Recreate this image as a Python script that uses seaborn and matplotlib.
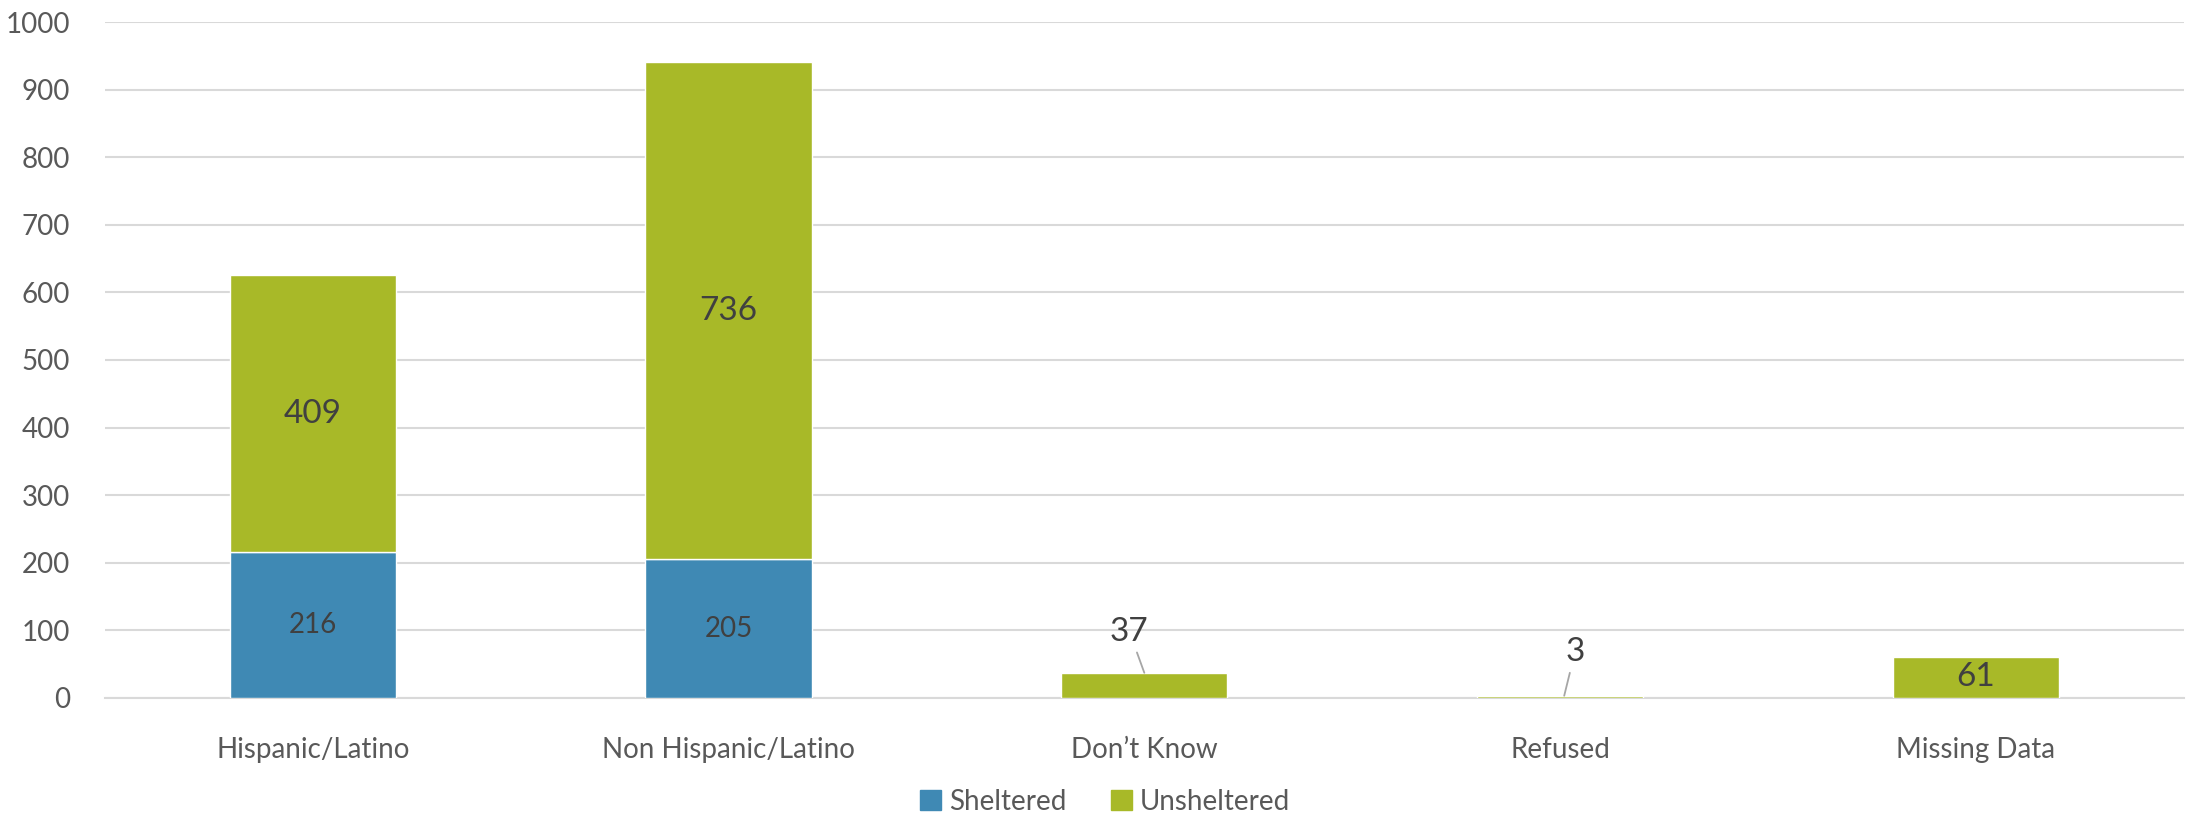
import matplotlib
matplotlib.use("Agg")
import matplotlib.pyplot as plt
import seaborn as sns
from matplotlib.patches import Patch

categories = ["Hispanic/Latino", "Non Hispanic/Latino", "Don\u2019t Know", "Refused", "Missing Data"]
sheltered = [216, 205, 0, 0, 0]
unsheltered = [409, 736, 37, 3, 61]
y_ticks = list(range(0, 1001, 100))

blue = "#3F89B4"
green = "#A8B928"
grid_col = "#D9D9D9"
txt_col = "#595959"
lbl_col = "#404040"

sns.set_theme(style="white")
plt.rcParams["font.family"] = ["Lato", "DejaVu Sans"]

fig = plt.figure(figsize=(21.88, 8.19), dpi=100)
ax = fig.add_axes([0.048, 0.148, 0.950, 0.825])

sns.barplot(x=categories, y=sheltered, color=blue, width=0.4, ax=ax,
            saturation=1, zorder=3)
sns.barplot(x=categories, y=unsheltered, bottom=sheltered, color=green,
            width=0.4, ax=ax, saturation=1, zorder=3)

# labels
for i, (s, u) in enumerate(zip(sheltered, unsheltered)):
    if s > 0:
        ax.text(i, s / 2, str(s), ha="center", va="center", fontsize=20, color=lbl_col, zorder=4)
    if u > 40:
        ax.text(i, s + u / 2, str(u), ha="center", va="center", fontsize=24, color=lbl_col, zorder=4)

# small values with leader lines
ax.annotate(str(unsheltered[2]), xy=(2, unsheltered[2]), xytext=(2 - 0.036, 98),
            ha="center", va="center", fontsize=24, color=lbl_col,
            arrowprops=dict(arrowstyle="-", color="#A6A6A6", lw=1.3, shrinkA=2, shrinkB=0))
ax.annotate(str(unsheltered[3]), xy=(3.01, unsheltered[3]), xytext=(3 + 0.036, 68),
            ha="center", va="center", fontsize=24, color=lbl_col,
            arrowprops=dict(arrowstyle="-", color="#A6A6A6", lw=1.3, shrinkA=2, shrinkB=0))

ax.set_ylim(0, 1000)
ax.set_xlim(-0.5, 4.5)
ax.set_yticks(y_ticks)
ax.yaxis.grid(True, color=grid_col, lw=1.5, zorder=0)
ax.set_axisbelow(True)
for sp in ["top", "right", "left"]:
    ax.spines[sp].set_visible(False)
ax.spines["bottom"].set_color(grid_col)
ax.spines["bottom"].set_linewidth(1.5)
ax.tick_params(axis="both", length=0, labelsize=20, labelcolor=txt_col)
ax.tick_params(axis="x", pad=28)
ax.tick_params(axis="y", pad=25)
ax.set_xlabel("")
ax.set_ylabel("")

handles = [Patch(color=blue, label="Sheltered"), Patch(color=green, label="Unsheltered")]
fig.legend(handles=handles, loc="center", bbox_to_anchor=(0.505, 0.021), ncol=2,
           frameon=False, fontsize=20, labelcolor=txt_col, handlelength=0.75,
           handleheight=0.75, handletextpad=0.3, columnspacing=1.6)

fig.savefig("out.png", dpi=100)
